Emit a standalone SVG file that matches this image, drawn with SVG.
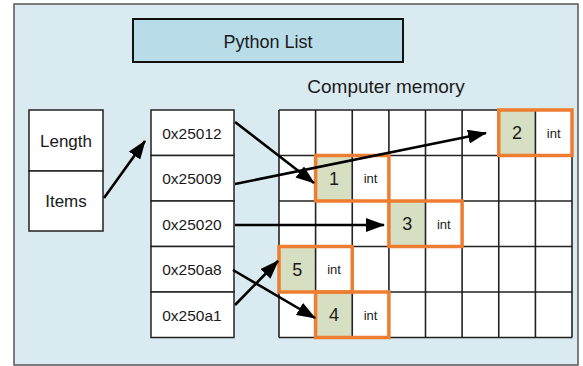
<svg xmlns="http://www.w3.org/2000/svg" width="583" height="366" viewBox="0 0 583 366">
  <style>
    .txt { font-family: "Liberation Sans", Arial, sans-serif; fill: #1a1a1a; }
    .box { fill: #ffffff; stroke: #222; stroke-width: 1.5; }
    .grid { stroke: #222; stroke-width: 1.6; }
    .val { fill: #d6dfc2; }
    .hl { fill: none; stroke: #ed7d31; stroke-width: 3.5; }
    .arr { stroke: #000; stroke-width: 2.6; fill: none; marker-end: url(#head); }
  </style>
  <defs>
    <marker id="head" markerUnits="userSpaceOnUse" markerWidth="19" markerHeight="14" refX="18" refY="7" orient="auto">
      <path d="M0,0 L19,7 L0,14 z" fill="#000"/>
    </marker>
  </defs>

  <!-- panel -->
  <rect x="14" y="4" width="564" height="361" fill="#daeaf1" stroke="#555" stroke-width="1.5"/>

  <!-- title -->
  <g id="title">
    <rect x="133" y="19" width="270" height="43" fill="#b8dde8" stroke="#111" stroke-width="2"/>
    <text class="txt" x="268" y="48" font-size="18" text-anchor="middle">Python List</text>
  </g>
  <text class="txt" x="386" y="93" font-size="19" text-anchor="middle">Computer memory</text>

  <!-- list header object -->
  <g id="header">
    <rect class="box" x="29" y="110" width="74" height="61"/>
    <rect class="box" x="29" y="171" width="74" height="60"/>
    <text class="txt" x="66" y="147" font-size="17" text-anchor="middle">Length</text>
    <text class="txt" x="66" y="207" font-size="17" text-anchor="middle">Items</text>
  </g>

  <!-- pointer array -->
  <g id="pointers" font-size="15.5">
    <rect class="box" x="151" y="110" width="83" height="45.5"/>
    <rect class="box" x="151" y="155.5" width="83" height="45.5"/>
    <rect class="box" x="151" y="201" width="83" height="45.5"/>
    <rect class="box" x="151" y="246.5" width="83" height="45.5"/>
    <rect class="box" x="151" y="292" width="83" height="45.5"/>
    <text class="txt" x="192" y="138.5" text-anchor="middle">0x25012</text>
    <text class="txt" x="192" y="184" text-anchor="middle">0x25009</text>
    <text class="txt" x="192" y="229.5" text-anchor="middle">0x25020</text>
    <text class="txt" x="192" y="275" text-anchor="middle">0x250a8</text>
    <text class="txt" x="192" y="320.5" text-anchor="middle">0x250a1</text>
  </g>

  <!-- memory grid 8 x 5 -->
  <g id="memory">
    <rect x="279" y="110" width="293" height="227.5" fill="#ffffff"/>
    <rect class="val" x="498.75" y="110" width="36.6" height="45.5"/>
    <rect class="val" x="315.6" y="155.5" width="36.6" height="45.5"/>
    <rect class="val" x="388.9" y="201" width="36.6" height="45.5"/>
    <rect class="val" x="279" y="246.5" width="36.6" height="45.5"/>
    <rect class="val" x="315.6" y="292" width="36.6" height="45.5"/>
    <g class="grid">
      <line x1="279" y1="110" x2="572" y2="110"/>
      <line x1="279" y1="155.5" x2="572" y2="155.5"/>
      <line x1="279" y1="201" x2="572" y2="201"/>
      <line x1="279" y1="246.5" x2="572" y2="246.5"/>
      <line x1="279" y1="292" x2="572" y2="292"/>
      <line x1="279" y1="337.5" x2="572" y2="337.5"/>
      <line x1="279" y1="110" x2="279" y2="337.5"/>
      <line x1="315.6" y1="110" x2="315.6" y2="337.5"/>
      <line x1="352.25" y1="110" x2="352.25" y2="337.5"/>
      <line x1="388.9" y1="110" x2="388.9" y2="337.5"/>
      <line x1="425.5" y1="110" x2="425.5" y2="337.5"/>
      <line x1="462.1" y1="110" x2="462.1" y2="337.5"/>
      <line x1="498.75" y1="110" x2="498.75" y2="337.5"/>
      <line x1="535.4" y1="110" x2="535.4" y2="337.5"/>
      <line x1="572" y1="110" x2="572" y2="337.5"/>
    </g>
  </g>

  <!-- int objects -->
  <g id="int2">
    <rect class="hl" x="498.75" y="110" width="73.25" height="45.5"/>
    <text class="txt" x="517" y="139" font-size="18" text-anchor="middle">2</text>
    <text class="txt" x="553.7" y="137.5" font-size="13" text-anchor="middle">int</text>
  </g>
  <g id="int1">
    <rect class="hl" x="315.6" y="155.5" width="73.3" height="45.5"/>
    <text class="txt" x="334" y="184.5" font-size="18" text-anchor="middle">1</text>
    <text class="txt" x="370.5" y="183" font-size="13" text-anchor="middle">int</text>
  </g>
  <g id="int3">
    <rect class="hl" x="388.9" y="201" width="73.2" height="45.5"/>
    <text class="txt" x="407.2" y="230" font-size="18" text-anchor="middle">3</text>
    <text class="txt" x="443.8" y="228.5" font-size="13" text-anchor="middle">int</text>
  </g>
  <g id="int5">
    <rect class="hl" x="279" y="246.5" width="73.25" height="45.5"/>
    <text class="txt" x="297.3" y="275.5" font-size="18" text-anchor="middle">5</text>
    <text class="txt" x="334" y="274" font-size="13" text-anchor="middle">int</text>
  </g>
  <g id="int4">
    <rect class="hl" x="315.6" y="292" width="73.3" height="45.5"/>
    <text class="txt" x="334" y="321" font-size="18" text-anchor="middle">4</text>
    <text class="txt" x="370.5" y="319.5" font-size="13" text-anchor="middle">int</text>
  </g>

  <!-- references -->
  <g id="connectors">
    <line class="arr" x1="104" y1="198" x2="145" y2="141"/>
    <line class="arr" x1="235" y1="122" x2="314" y2="183"/>
    <line class="arr" x1="235" y1="184" x2="486" y2="133"/>
    <line class="arr" x1="235" y1="225" x2="384" y2="225"/>
    <line class="arr" x1="235" y1="305" x2="278" y2="261"/>
    <line class="arr" x1="233" y1="270" x2="315" y2="318"/>
  </g>
</svg>
